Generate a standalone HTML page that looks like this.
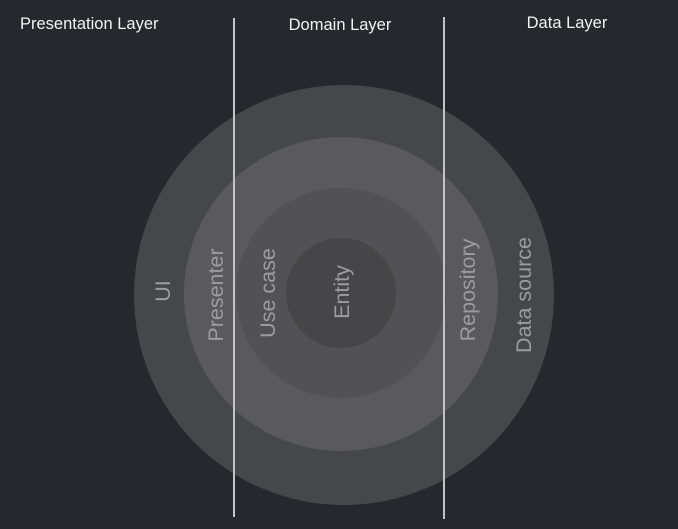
<!DOCTYPE html>
<html><head><meta charset="utf-8"><style>
html,body{margin:0;padding:0;background:#27282d;}
svg{display:block}
</style></head><body>
<svg width="678" height="529" viewBox="0 0 678 529" xmlns="http://www.w3.org/2000/svg">
<rect width="678" height="529" fill="#27282d"/>
<circle cx="344" cy="295" r="210" fill="#46474b"/>
<circle cx="341" cy="294" r="157" fill="#5a5a5e"/>
<circle cx="341" cy="293" r="105" fill="#525256"/>
<circle cx="341" cy="293" r="55" fill="#464649"/>
<g font-family="Liberation Sans, sans-serif" font-size="21.5" fill="#9c9c9e" text-anchor="middle">
<text transform="translate(170,291) rotate(-90)">UI</text>
<text transform="translate(223,295) rotate(-90)">Presenter</text>
<text transform="translate(275,293) rotate(-90)">Use case</text>
<text transform="translate(349,292) rotate(-90)">Entity</text>
<text transform="translate(475,290) rotate(-90)">Repository</text>
<text transform="translate(531,295) rotate(-90)">Data source</text>
</g>
<rect x="233" y="18" width="2" height="499" fill="#c4c4c6"/>
<rect x="443" y="17" width="2" height="502" fill="#c4c4c6"/>
<g font-family="Liberation Sans, sans-serif" font-size="16.5" fill="#f2f2f2">
<text x="20" y="29">Presentation Layer</text>
<text x="340" y="30" text-anchor="middle">Domain Layer</text>
<text x="567" y="28" text-anchor="middle">Data Layer</text>
</g>
</svg>
</body></html>
